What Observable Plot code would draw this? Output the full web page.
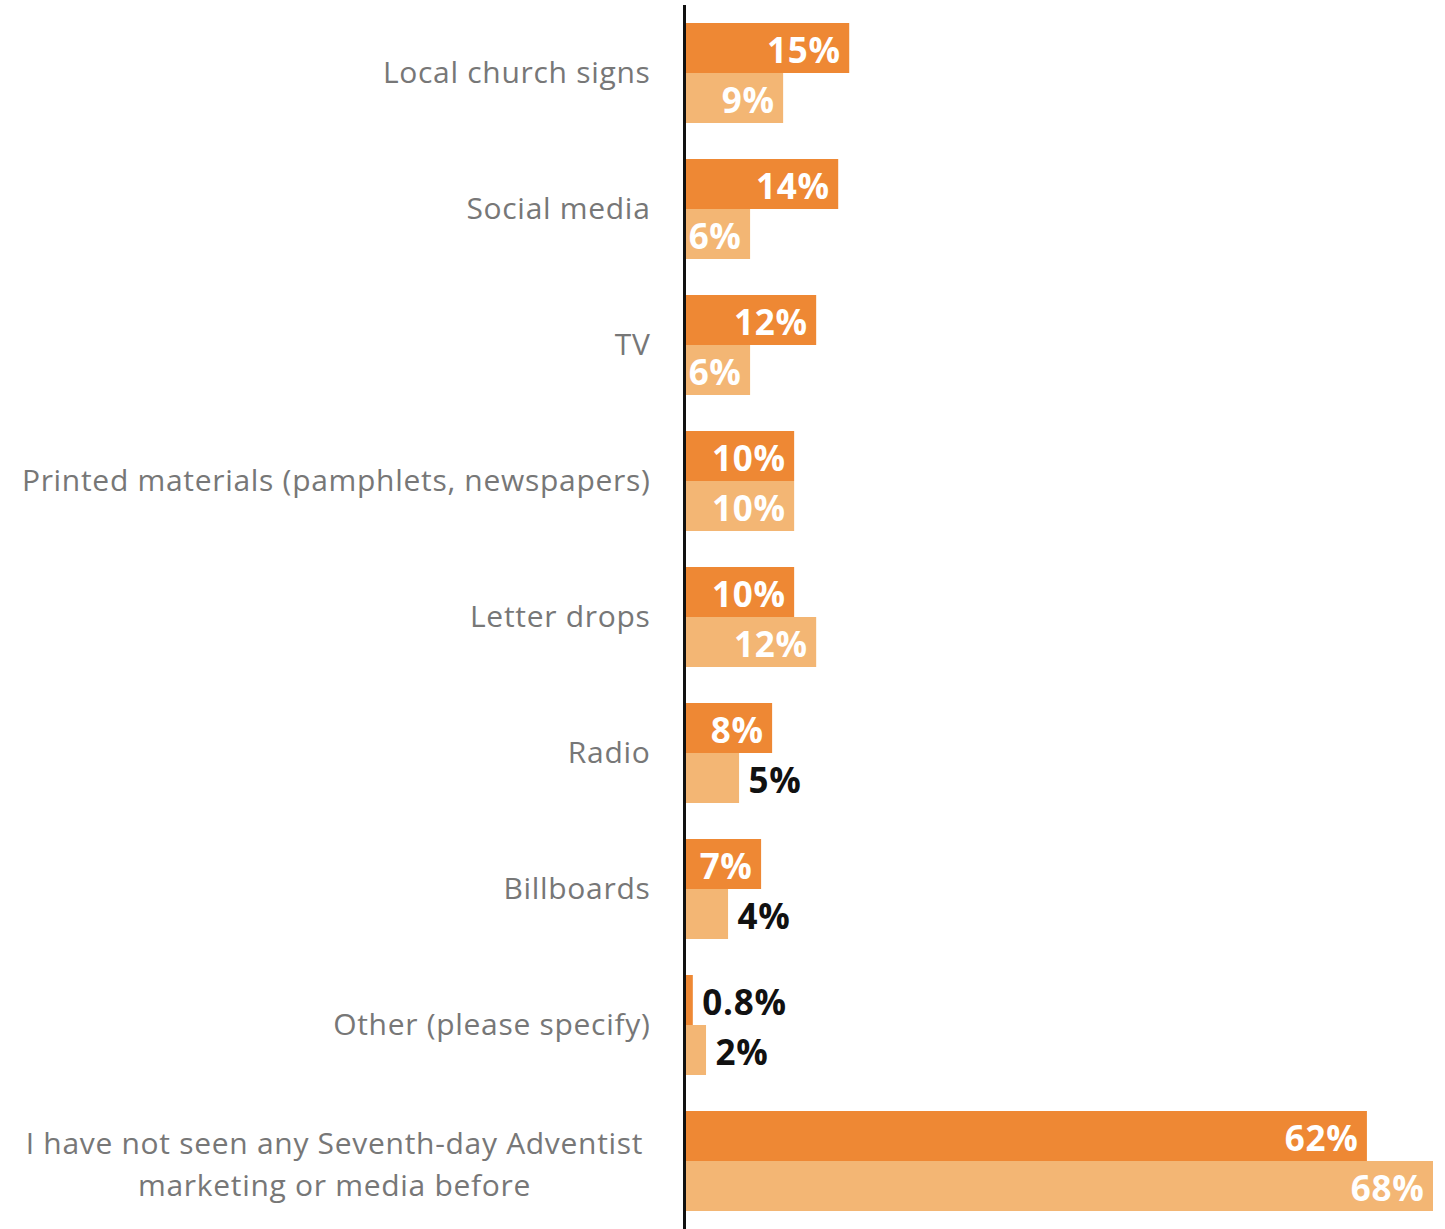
<!DOCTYPE html>
<html>
<head>
<meta charset="utf-8">
<script src="https://cdn.jsdelivr.net/npm/d3@7"></script>
<script src="https://cdn.jsdelivr.net/npm/@observablehq/plot@0.6"></script>
<style>
  html, body { margin: 0; padding: 0; background: #fff; }
  #chart svg { display: block; }
</style>
</head>
<body>
<div id="chart"></div>
<script>
const categories = [
  "Local church signs",
  "Social media",
  "TV",
  "Printed materials (pamphlets, newspapers)",
  "Letter drops",
  "Radio",
  "Billboards",
  "Other (please specify)",
  "I have not seen any Seventh-day Adventist\nmarketing or media before"
];
const seriesNames = ["Series A", "Series B"];
const seriesA = [15, 14, 12, 10, 10, 8, 7, 0.8, 62];
const seriesB = [9, 6, 6, 10, 12, 5, 4, 2, 68];
const valueLabelsA = ["15%", "14%", "12%", "10%", "10%", "8%", "7%", "0.8%", "62%"];
const valueLabelsB = ["9%", "6%", "6%", "10%", "12%", "5%", "4%", "2%", "68%"];

const colors = ["#EE8834", "#F3B674"];

const rowsA = categories.map((c, i) => ({category: c, value: seriesA[i], label: valueLabelsA[i], series: seriesNames[0]}));
const rowsB = categories.map((c, i) => ({category: c, value: seriesB[i], label: valueLabelsB[i], series: seriesNames[1]}));

const inside = d => d.value > 5;
const singleLine = categories.filter(c => !c.includes("\n"));
const multiLine = categories.filter(c => c.includes("\n"));

const labelFont = "'Open Sans', Lato, sans-serif";
const valueFont = "'Open Sans', Lato, sans-serif";

const chart = Plot.plot({
  width: 1445,
  height: 1229,
  marginLeft: 684,
  marginRight: 12,
  marginTop: 5,
  marginBottom: 0,
  style: {fontFamily: labelFont, background: "#fff", letterSpacing: "0.7px"},
  x: {domain: [0, 68], axis: null},
  y: {domain: categories, axis: null, paddingInner: 0.265, paddingOuter: 0.1325},
  marks: [
    Plot.barX(rowsA, {x: "value", y: "category", fill: colors[0], insetBottom: 50}),
    Plot.barX(rowsB, {x: "value", y: "category", fill: colors[1], insetTop: 50}),
    Plot.text(rowsA.filter(inside), {x: "value", y: "category", text: "label", dy: -22, dx: -9, textAnchor: "end", fill: "#fff", fontWeight: 700, fontSize: 35, fontFamily: valueFont}),
    Plot.text(rowsB.filter(inside), {x: "value", y: "category", text: "label", dy: 28, dx: -9, textAnchor: "end", fill: "#fff", fontWeight: 700, fontSize: 35, fontFamily: valueFont}),
    Plot.text(rowsA.filter(d => !inside(d)), {x: "value", y: "category", text: "label", dy: -22, dx: 9, textAnchor: "start", fill: "#111", fontWeight: 700, fontSize: 35, fontFamily: valueFont}),
    Plot.text(rowsB.filter(d => !inside(d)), {x: "value", y: "category", text: "label", dy: 28, dx: 9, textAnchor: "start", fill: "#111", fontWeight: 700, fontSize: 35, fontFamily: valueFont}),
    Plot.text(singleLine, {x: 0, y: d => d, text: d => d, textAnchor: "end", dx: -34, fill: "#777", fontSize: 30}),
    Plot.text(multiLine, {x: 0, y: d => d, text: d => d, textAnchor: "middle", dx: -350, fill: "#777", fontSize: 30, lineHeight: 1.42}),
    Plot.ruleX([0], {stroke: "#111", strokeWidth: 3})
  ]
});
document.getElementById("chart").appendChild(chart);
</script>
</body>
</html>
